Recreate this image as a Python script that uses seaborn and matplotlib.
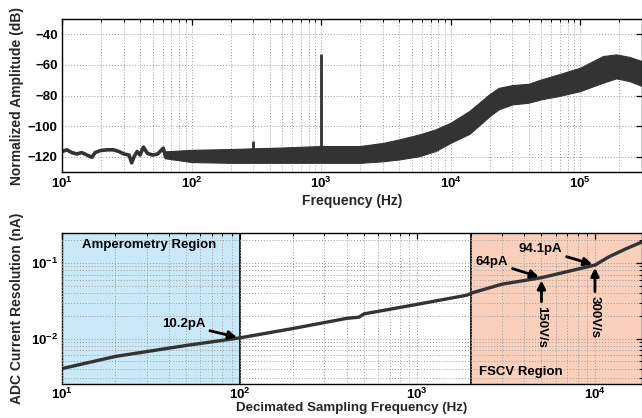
import numpy as np
import pandas as pd
import matplotlib
matplotlib.use("Agg")
import matplotlib.pyplot as plt
import seaborn as sns
from matplotlib.ticker import LogLocator, NullFormatter, FixedLocator

# ---------------- data ----------------
# Top panel: spectrum
low_f = [10, 10.9, 11.9, 13, 14.2, 15.6, 17, 18, 19.8, 22.3, 25, 27.5, 30, 32.9,
         34.5, 36, 38, 40, 42.5, 45.6, 50, 54.7, 60.5, 63, 66, 70]
low_db = [-116.6, -115.5, -117.3, -118.2, -117.3, -118.9, -120.4, -117.3, -116,
          -115.5, -115.5, -116.6, -118.2, -118.9, -124, -120, -116.6, -118.9,
          -113.7, -117.8, -118.9, -118.2, -114.4, -120, -118, -119]
band_f = [62, 100, 200, 300, 500, 1000, 2000, 3000, 4000, 5700, 7600, 10000, 14000,
          20000, 23500, 30000, 40000, 50000, 68000, 100000, 150000, 190000, 240000, 300000]
band_upper = [-116.5, -115.5, -115, -114.5, -114, -113, -113, -111, -108.7, -105.5,
              -102.2, -97.8, -90, -79, -75, -73.2, -72.3, -69.5, -66.2, -61.8,
              -54.2, -53.1, -54.8, -57.5]
band_lower = [-121, -123.5, -124, -124, -124, -124, -124, -123, -121.8, -119.7,
              -116.4, -110.9, -105, -93.5, -89, -85.8, -84.7, -82.5, -80.4, -77.1,
              -71.6, -68.8, -70.6, -73.8]
spike_f = [300, 1000]
spike_db = [-110, -53]
spike_base = -121

# Bottom panel: ADC current resolution
dec_f = [10, 20, 50, 100, 200, 400, 470, 500, 1000, 1900, 2050, 3000, 5000,
         10000, 12000, 15000, 18400]
res_nA = [0.0040, 0.0058, 0.0081, 0.0102, 0.0136, 0.0185, 0.0192, 0.0212, 0.0284,
          0.0375, 0.0405, 0.0525, 0.064, 0.094, 0.121, 0.155, 0.19]
amp_region = [10, 100]
fscv_region = [2000, 18400]

top_yticks = [-120, -100, -80, -60, -40]

# ---------------- style ----------------
sns.set_theme(style="white")
plt.rcParams['font.family'] = ['Liberation Sans', 'DejaVu Sans']
plt.rcParams['font.weight'] = 'bold'
plt.rcParams['axes.labelweight'] = 'bold'
plt.rcParams['mathtext.fontset'] = 'custom'
plt.rcParams['mathtext.rm'] = 'Liberation Sans:bold'
plt.rcParams['mathtext.bf'] = 'Liberation Sans:bold'
plt.rcParams['mathtext.it'] = 'Liberation Sans:bold'
plt.rcParams['mathtext.default'] = 'rm'

LINE = '#333333'
GRID = dict(color='#9a9a9a', linestyle=(0, (1, 2)), linewidth=0.7)

fig = plt.figure(figsize=(6.42, 4.18), dpi=100)
ax1 = fig.add_axes([0.0966, 0.5885, 0.9034, 0.366])
ax2 = fig.add_axes([0.0966, 0.0813, 0.9034, 0.3613])


def style_axis(ax):
    for s in ax.spines.values():
        s.set_color('black')
        s.set_linewidth(1.0)
    ax.tick_params(which='both', direction='in', top=True, right=True,
                   labelsize=9.5, colors='black', pad=3)
    ax.tick_params(which='major', length=4, width=0.9)
    ax.tick_params(which='minor', length=2, width=0.7)
    for lab in ax.get_xticklabels() + ax.get_yticklabels():
        lab.set_fontweight('bold')


# ---------------- top panel ----------------
ax1.set_xscale('log')
df_low = pd.DataFrame({'f': low_f, 'db': low_db})
sns.lineplot(data=df_low, x='f', y='db', ax=ax1, color=LINE, linewidth=2.6,
             estimator=None, sort=False)
ax1.fill_between(band_f, band_lower, band_upper, color=LINE, linewidth=0.8,
                 edgecolor=LINE)
ax1.vlines(spike_f, spike_base, spike_db, color=LINE, linewidth=2.0)
ax1.set_xlim(10, 3e5)
ax1.set_ylim(-130, -30)
ax1.set_yticks(top_yticks)
ax1.xaxis.set_major_locator(LogLocator(base=10, numticks=10))
ax1.xaxis.set_minor_locator(LogLocator(base=10, subs=np.arange(2, 10), numticks=20))
ax1.xaxis.set_minor_formatter(NullFormatter())
ax1.grid(True, which='major', axis='both', **GRID)
ax1.grid(True, which='minor', axis='x', **GRID)
ax1.set_xlabel('Frequency (Hz)', fontsize=10, fontweight='bold', labelpad=2)
ax1.set_ylabel('Normalized Amplitude (dB)', fontsize=10, fontweight='bold', labelpad=3)
style_axis(ax1)

# ---------------- bottom panel ----------------
ax2.set_xscale('log')
ax2.set_yscale('log')
ax2.axvspan(amp_region[0], amp_region[1], color='#c9e9f8', zorder=0, linewidth=0)
ax2.axvspan(fscv_region[0], fscv_region[1] * 1.1, color='#f9d0bb', zorder=0, linewidth=0)
ax2.axvline(amp_region[1], color='black', linewidth=1.2, zorder=1)
ax2.axvline(fscv_region[0], color='black', linewidth=1.2, zorder=1)
df_res = pd.DataFrame({'f': dec_f, 'r': res_nA})
sns.lineplot(data=df_res, x='f', y='r', ax=ax2, color=LINE, linewidth=2.4,
             estimator=None, sort=False, zorder=3)
ax2.set_xlim(10, 18400)
ax2.set_ylim(0.0025, 0.25)
ax2.xaxis.set_major_locator(LogLocator(base=10, numticks=10))
ax2.xaxis.set_minor_locator(LogLocator(base=10, subs=np.arange(2, 10), numticks=20))
ax2.xaxis.set_minor_formatter(NullFormatter())
ax2.yaxis.set_major_locator(FixedLocator([0.01, 0.1]))
ax2.yaxis.set_minor_locator(LogLocator(base=10, subs=np.arange(2, 10), numticks=20))
ax2.yaxis.set_minor_formatter(NullFormatter())
ax2.set_yticks([0.01, 0.1])
ax2.set_yticklabels([r'$10^{-2}$', r'$10^{-1}$'])
ax2.grid(True, which='both', axis='both', **GRID)
ax2.set_axisbelow(False)
ax2.set_xlabel('Decimated Sampling Frequency (Hz)', fontsize=9.6, fontweight='bold', labelpad=0)
ax2.set_ylabel('ADC Current Resolution (nA)', fontsize=10, fontweight='bold', labelpad=5)
style_axis(ax2)
ax2.tick_params(axis='x', which='both', pad=2)

arrow = dict(arrowstyle='-|>', color='black', lw=2.0, mutation_scale=12,
             shrinkA=1, shrinkB=2)
tk = dict(fontsize=9.5, fontweight='bold', color='black')

ax2.text(12.9, 0.174, 'Amperometry Region', ha='left', va='center', **tk)
ax2.text(2223, 0.00363, 'FSCV Region', ha='left', va='center', **tk)
ax2.annotate('10.2pA', xy=(dec_f[3], res_nA[3]), xytext=(64, 0.0154),
             ha='right', va='center', arrowprops=arrow, **tk)
ax2.annotate('64pA', xy=(dec_f[12], res_nA[12]), xytext=(3236, 0.103),
             ha='right', va='center', arrowprops=arrow, **tk)
ax2.annotate('94.1pA', xy=(dec_f[13], res_nA[13]), xytext=(6516, 0.154),
             ha='right', va='center', arrowprops=arrow, **tk)
ax2.annotate('150V/s', xy=(dec_f[12], res_nA[12]), xytext=(dec_f[12], 0.0267),
             ha='center', va='top', rotation=270, arrowprops=arrow, **tk)
ax2.annotate('300V/s', xy=(dec_f[13], res_nA[13]), xytext=(dec_f[13], 0.0363),
             ha='center', va='top', rotation=270, arrowprops=arrow, **tk)

fig.savefig('out.png', dpi=100)
